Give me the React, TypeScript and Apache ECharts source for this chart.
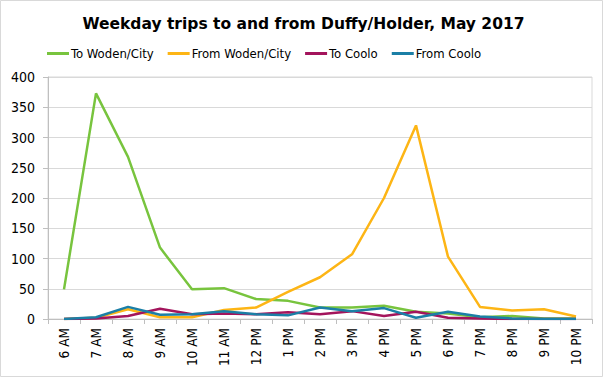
import React, { useEffect, useRef } from "react";
import * as echarts from "echarts";

const categories = ["6 AM", "7 AM", "8 AM", "9 AM", "10 AM", "11 AM", "12 PM", "1 PM", "2 PM", "3 PM", "4 PM", "5 PM", "6 PM", "7 PM", "8 PM", "9 PM", "10 PM"];
const toWodenCity = [49, 373, 268, 118, 49, 51, 33, 30, 19, 19, 22, 12, 9, 3, 5, 1, 1];
const fromWodenCity = [0, 2, 16, 3, 3, 15, 19, 45, 69, 107, 200, 320, 103, 20, 14, 16, 4];
const toCoolo = [0, 1, 5, 17, 8, 9, 8, 11, 8, 13, 5, 12, 2, 1, 0, 0, 0];
const fromCoolo = [0, 3, 20, 7, 8, 13, 8, 6, 19, 13, 18, 2, 12, 4, 1, 0, 0];
const seriesNames = ["To Woden/City", "From Woden/City", "To Coolo", "From Coolo"];
const seriesColors = ["#78C43E", "#FDB515", "#A3145C", "#1B7FA6"];

export default function App() {
  const ref = useRef<HTMLDivElement>(null);
  useEffect(() => {
    if (!ref.current) return;
    const chart = echarts.init(ref.current, null, { renderer: "svg" });
    const font = "DejaVu Sans Condensed, DejaVu Sans, sans-serif";
    const data = [toWodenCity, fromWodenCity, toCoolo, fromCoolo];
    chart.setOption({
      animation: false,
      backgroundColor: "#ffffff",
      textStyle: { fontFamily: font },
      title: {
        text: "Weekday trips to and from Duffy/Holder, May 2017",
        left: "center",
        top: 11,
        textStyle: { fontFamily: "DejaVu Sans, sans-serif", fontSize: 15.5, fontWeight: "bold", color: "#000" },
      },
      legend: {
        top: 42,
        left: 42,
        itemWidth: 22,
        itemHeight: 3,
        itemGap: 14,
        icon: "rect",
        textStyle: { fontFamily: font, fontSize: 13, color: "#000", padding: [0, 0, 0, -3] },
        data: seriesNames,
      },
      graphic: [
        {
          type: "rect",
          shape: { x: 0.5, y: 0.5, width: 602, height: 376 },
          style: { fill: "none", stroke: "#D9D9D9", lineWidth: 1 },
          silent: true,
        },
      ],
      grid: {
        left: 48,
        right: 15,
        top: 77,
        bottom: 60,
        show: true,
        borderColor: "#D9D9D9",
        borderWidth: 1,
      },
      xAxis: {
        type: "category",
        data: categories,
        boundaryGap: true,
        axisLine: { lineStyle: { color: "#BFBFBF", width: 1 } },
        axisTick: { show: true, length: 5, alignWithLabel: false, lineStyle: { color: "#BFBFBF" } },
        axisLabel: { rotate: 90, fontFamily: font, fontSize: 13.5, color: "#000", margin: 9, interval: 0 },
      },
      yAxis: {
        type: "value",
        min: 0,
        max: 400,
        interval: 50,
        axisLine: { show: true, lineStyle: { color: "#BFBFBF", width: 1 } },
        axisTick: { show: true, length: 5, lineStyle: { color: "#BFBFBF" } },
        splitLine: { lineStyle: { color: "#D9D9D9", width: 1 } },
        axisLabel: { fontFamily: font, fontSize: 14, color: "#000", margin: 13 },
      },
      series: seriesNames.map((name, i) => ({
        name,
        type: "line",
        data: data[i],
        symbol: "none",
        color: seriesColors[i],
        lineStyle: { width: 2.5, color: seriesColors[i] },
      })),
    });
    return () => chart.dispose();
  }, []);
  return (
    <div
      ref={ref}
      style={{ position: "absolute", left: 0, top: 0, width: 607, height: 379 }}
    />
  );
}
